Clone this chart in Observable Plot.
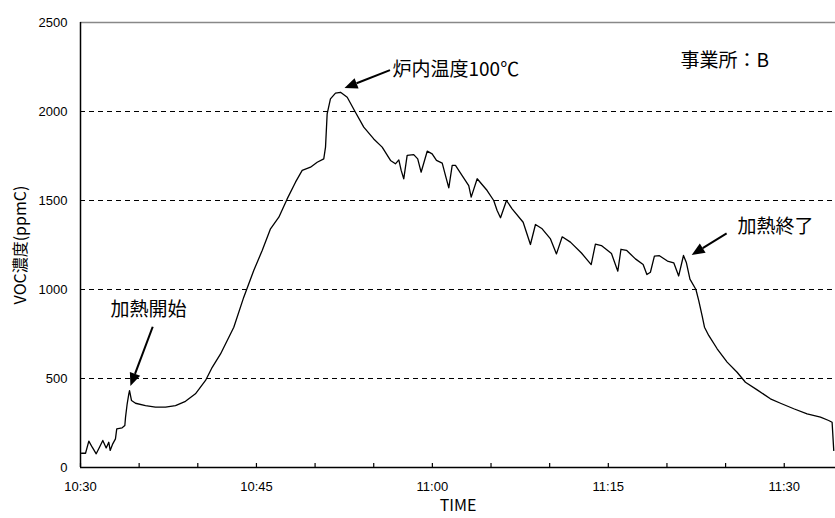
<!DOCTYPE html>
<html>
<head>
<meta charset="utf-8">
<script src="https://cdn.jsdelivr.net/npm/d3@7"></script>
<script src="https://cdn.jsdelivr.net/npm/@observablehq/plot@0.6"></script>
<style>
  html, body { margin: 0; padding: 0; background: #fff; }
  #chart svg { display: block; }
</style>
</head>
<body>
<div id="chart"></div>
<script>
// minutes after 10:30
const minutes = [0.09,0.43,0.71,1.0,1.34,1.62,1.90,2.19,2.41,2.53,2.75,2.98,3.09,3.55,3.78,3.84,3.98,4.12,4.18,4.35,4.69,5.54,6.39,7.25,8.10,8.95,9.80,10.66,11.23,11.94,13.07,13.92,14.77,15.49,16.20,16.91,17.62,18.33,18.90,19.61,20.18,20.74,20.89,21.03,21.31,21.74,22.17,22.74,23.44,24.15,25.0,25.72,26.43,26.85,27.14,27.34,27.56,27.85,28.41,28.75,29.04,29.56,29.98,30.35,30.84,31.12,31.40,31.69,31.97,32.54,33.10,33.31,33.82,34.67,35.23,35.52,35.81,36.32,36.80,37.74,38.36,38.79,39.36,40.07,40.58,41.07,41.77,42.71,43.54,43.90,44.41,45.27,45.81,46.08,46.55,47.31,47.97,48.29,48.59,48.93,49.36,50.04,50.58,51.0,51.41,51.66,51.96,52.47,52.71,53.0,53.2,53.56,54.28,55.13,55.98,56.69,57.69,58.82,59.68,60.81,61.95,63.09,63.79,64.08,64.22];
// VOC concentration (ppmC)
const voc = [80,80,148,114,77,114,152,110,142,96,133,161,217,223,236,283,358,414,432,376,361,348,339,339,348,372,414,489,563,638,788,957,1107,1219,1341,1406,1509,1603,1669,1687,1715,1734,1800,1987,2071,2103,2108,2080,1996,1912,1846,1800,1725,1706,1728,1669,1622,1753,1758,1734,1659,1777,1762,1725,1710,1640,1571,1697,1697,1640,1584,1519,1622,1556,1500,1444,1403,1500,1453,1378,1253,1365,1341,1284,1200,1296,1266,1205,1140,1255,1247,1202,1103,1226,1220,1172,1140,1084,1097,1188,1190,1160,1150,1076,1191,1150,1058,1000,938,852,788,742,667,592,535,479,436,386,361,330,301,283,264,254,96];

const xTickMinutes = [0,5,10,15,20,25,30,35,40,45,50,55,60];
const xLabelMinutes = [0,15,30,45,60];
const xTickLabels = ["10:30","10:45","11:00","11:15","11:30"];
const yTicks = [0,500,1000,1500,2000,2500];
const gridLines = [500,1000,1500,2000];

// annotations (data units)
const centeredNotes = ["加熱開始","加熱終了"];
const centeredX = [5.80,59.25];
const centeredY = [888,1354];
const leftNotes = ["炉内温度100℃","事業所：B"];
const leftX = [26.6,51.15];
const leftY = [2236,2287];
const arrowX1 = [6.20,26.43,55.13];
const arrowY1 = [788,2230,1313];
const arrowX2 = [4.30,22.55,52.15];
const arrowY2 = [455,2129,1191];

const data = minutes.map((m, i) => ({m, v: voc[i]}));
const cNotes = centeredNotes.map((t, i) => ({t, x: centeredX[i], y: centeredY[i]}));
const lNotes = leftNotes.map((t, i) => ({t, x: leftX[i], y: leftY[i]}));
const arrows = arrowX1.map((x1, i) => ({x1, y1: arrowY1[i], x2: arrowX2[i], y2: arrowY2[i]}));

const cjk = "'Noto Sans CJK JP', 'Noto Sans', sans-serif";

function arrowMark(index, scales) {
  const g = d3.create("svg:g");
  for (const a of arrows) {
    const x1 = scales.x(a.x1), y1 = scales.y(a.y1);
    const x2 = scales.x(a.x2), y2 = scales.y(a.y2);
    const ang = Math.atan2(y2 - y1, x2 - x1);
    const L = 13, W = 5.5;
    const bx = x2 - L * Math.cos(ang), by = y2 - L * Math.sin(ang);
    g.append("line").attr("x1", x1).attr("y1", y1).attr("x2", bx).attr("y2", by)
      .attr("stroke", "black").attr("stroke-width", 2);
    const px = -Math.sin(ang), py = Math.cos(ang);
    g.append("polygon")
      .attr("points", `${x2},${y2} ${bx + W * px},${by + W * py} ${bx - W * px},${by - W * py}`)
      .attr("fill", "black");
  }
  return g.node();
}

const plot = Plot.plot({
  width: 835,
  height: 518,
  marginLeft: 80,
  marginRight: 0,
  marginTop: 22,
  marginBottom: 51,
  x: {domain: [0, 64.37]},
  y: {domain: [0, 2500]},
  style: {fontFamily: "'Liberation Sans', Arial, sans-serif", background: "white", color: "black"},
  marks: [
    Plot.ruleY(gridLines, {stroke: "black", strokeDasharray: "5,4", strokeWidth: 1.2}),
    Plot.ruleY([2500], {stroke: "#888", strokeWidth: 1.5}),
    Plot.axisX({ticks: xTickMinutes, tickSize: -4, tickFormat: () => "", stroke: "black", strokeWidth: 1.2}),
    Plot.axisX({ticks: xLabelMinutes, tickSize: 0, tickPadding: 14, fontSize: 13,
      tickFormat: d => xTickLabels[xLabelMinutes.indexOf(d)],
      label: "TIME", labelAnchor: "center", labelArrow: "none", labelOffset: 43}),
    Plot.axisY({ticks: yTicks, tickSize: 0, tickPadding: 13, fontSize: 13,
      tickFormat: d => String(d),
      label: "VOC濃度(ppmC)", labelAnchor: "center", labelArrow: "none", labelOffset: 66}),
    Plot.ruleY([0], {stroke: "black", strokeWidth: 1.5}),
    Plot.ruleX([0], {stroke: "black", strokeWidth: 1.5}),
    Plot.line(data, {x: "m", y: "v", stroke: "black", strokeWidth: 1.3}),
    Plot.text(cNotes, {x: "x", y: "y", text: "t", textAnchor: "middle", fontSize: 19, fontFamily: cjk, fill: "black"}),
    Plot.text(lNotes, {x: "x", y: "y", text: "t", textAnchor: "start", fontSize: 19, fontFamily: cjk, fill: "black"}),
    arrowMark
  ]
});

d3.select(plot).selectAll("[aria-label='x-axis label'] text, [aria-label='y-axis label'] text")
  .style("font-size", "16px").style("font-family", cjk);
document.getElementById("chart").appendChild(plot);
</script>
</body>
</html>
